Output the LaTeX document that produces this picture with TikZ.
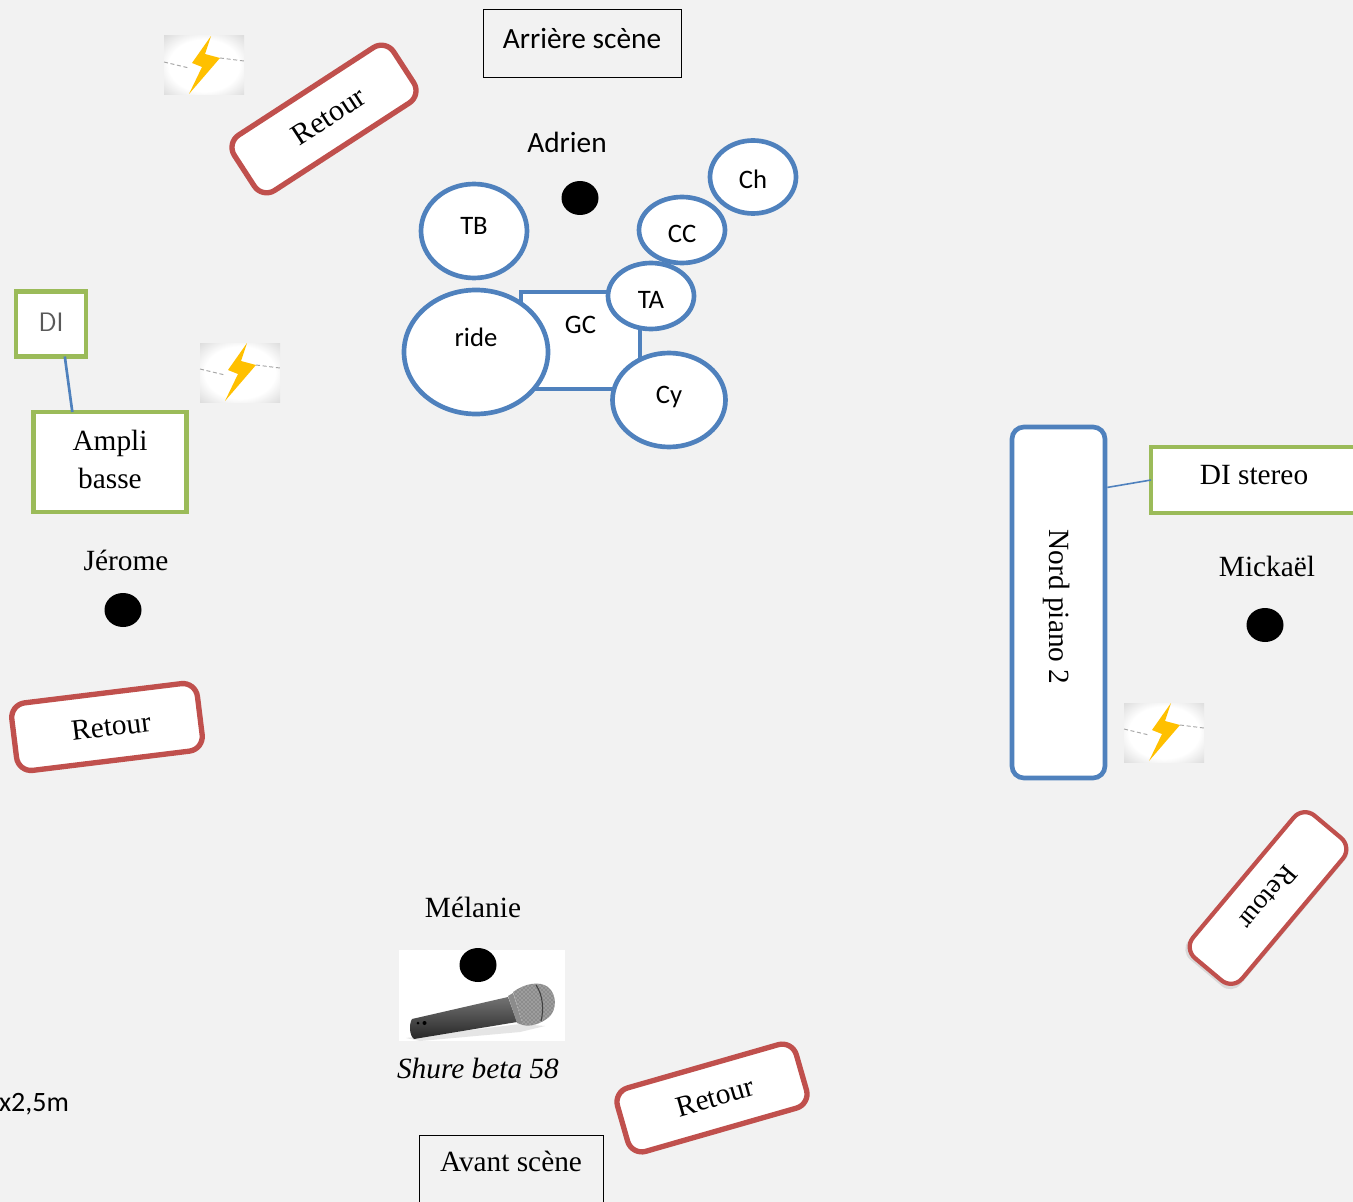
\documentclass[tikz,border=0pt]{standalone}
\usepackage{fontspec}
\setmainfont{Liberation Serif}
\newfontfamily\carlito{Carlito}
\usetikzlibrary{shapes.geometric,patterns}
\definecolor{bgc}{HTML}{F2F2F2}
\definecolor{blu}{HTML}{4F81BD}
\definecolor{grn}{HTML}{9BBB59}
\definecolor{rd}{HTML}{C0504D}
\definecolor{bolty}{HTML}{FFC000}
\pgfdeclareradialshading{boltbg}{\pgfpoint{0bp}{0bp}}{color(0bp)=(white); color(22bp)=(white); color(36bp)=(black!14); color(50bp)=(black!26)}
\tikzset{
  x=0.75pt,y=-0.75pt,
  wh/.style 2 args={minimum width=#1*0.75pt,minimum height=#2*0.75pt},
  serif/.style={font=\fontsize{22pt}{28.5pt}\selectfont},
  carl/.style={font=\carlito\fontsize{20pt}{24pt}\selectfont},
  carlb/.style={font=\carlito\fontsize{22pt}{26pt}\selectfont},
  txt/.style={inner sep=0pt,outer sep=0pt},
  drum/.style={ellipse,draw=blu,line width=3.5pt,fill=white,inner sep=0pt,outer sep=0pt,carl},
  dot/.style={ellipse,fill=black,inner sep=0pt,outer sep=0pt},
  retour/.style={rectangle,rounded corners=11pt,draw=rd,line width=4pt,fill=white,inner sep=0pt,serif},
  greenbox/.style={rectangle,draw=grn,line width=3.5pt,fill=white,inner sep=0pt,outer sep=0pt,serif},
  plainbox/.style={rectangle,draw=black,line width=0.75pt,inner sep=0pt,outer sep=0pt},
  conn/.style={draw=blu,line width=2pt},
  bolt/.pic={
    \shade[shading=boltbg] (0,0) rectangle (80,59);
    \draw[gray!70,line width=0.7pt,densely dashed] (0,26) -- (25,32);
    \draw[gray!70,line width=0.7pt,densely dashed] (56,22) -- (80,25);
    \fill[bolty] (47,0) -- (28,27) -- (38,31) -- (25,58) -- (56,22) -- (41,18) -- cycle;
  }
}
\begin{document}
\begin{tikzpicture}
\useasboundingbox (0,0) rectangle (1353,1202);
\clip (0,0) rectangle (1353,1202);
\fill[bgc] (0,0) rectangle (1353,1202);

% stage labels
\node[plainbox,wh={198}{68},carlb] (arriere) at (582,44) {\raisebox{8.25pt}{Arrière scène}};
\node[plainbox,wh={184}{90},serif] (avant) at (511,1180) {\raisebox{27.75pt}{Avant scène}};

% drums
\node[rectangle,draw=blu,line width=3.5pt,fill=white,wh={119}{97},inner sep=0pt,carl] (gc) at (580.5,340.5) {\raisebox{22.75pt}{GC}};
\node[drum,wh={106}{94}] (tb) at (474,231) {\raisebox{7.25pt}{TB}};
\node[drum,wh={86}{66}] (cc) at (682,230) {\rule{0pt}{19pt}CC};
\node[drum,wh={86}{73}] (ch) at (753,177) {\rule{0pt}{17pt}Ch};
\node[drum,wh={86}{66}] (ta) at (651,296) {\rule{0pt}{19pt}TA};
\node[drum,wh={144}{124}] (ride) at (476,352) {\raisebox{22.75pt}{ride}};
\node[drum,wh={113}{94}] (cy) at (669,400) {\raisebox{7.25pt}{Cy}};

% people
\node[txt,carlb] (adrien) at (567,142) {Adrien};
\node[dot,wh={37}{34}] (adriend) at (580,198) {};
\node[txt,serif] (jerome) at (126,560) {Jérome};
\node[dot,wh={37}{34}] (jeromed) at (123,610) {};
\node[txt,serif] (mickael) at (1267,566) {Mickaël};
\node[dot,wh={37}{34}] (mickaeld) at (1265,625) {};
\node[txt,serif] (melanie) at (473,907) {Mélanie};

% microphone
\fill[white] (399,950) rectangle (565,1041);
\fill[black!10] (406,1038) -- (520,1024) -- (545,1026) -- (520,1032) -- (420,1041) -- cycle;
\shade[top color=black!55,bottom color=black!85] (412,1019) -- (508,997) -- (517,1022) -- (414,1039) .. controls (409,1035) and (409,1024) .. (412,1019) -- cycle;
\fill[black!45] (508,996) -- (513,993) -- (523,1025) -- (517,1023) -- cycle;
\fill[black!45] (513,992) .. controls (525,983) and (540,981) .. (548,987) .. controls (557,994) and (557,1010) .. (549,1017) .. controls (541,1024) and (530,1027) .. (523,1025) -- cycle;
\fill[pattern=crosshatch dots,pattern color=white!85!black] (513,992) .. controls (525,983) and (540,981) .. (548,987) .. controls (557,994) and (557,1010) .. (549,1017) .. controls (541,1024) and (530,1027) .. (523,1025) -- cycle;
\draw[black!75,line width=0.8pt] (536,985) .. controls (543,995) and (544,1010) .. (541,1021);
\fill[black] (418,1023) circle (1.5);
\fill[black] (424.5,1023) circle (2);
\node[dot,wh={37}{34}] (melanied) at (478,965) {};
\node[txt,serif] (shure) at (478,1068) {\itshape Shure beta 58};

% cabling
\node[greenbox,wh={70}{65},font=\sffamily\fontsize{20pt}{24pt}\selectfont,text=black!65] (di) at (51,324) {\raisebox{2pt}{DI}};
\node[greenbox,wh={153}{100}] (ampli) at (110,462) {\raisebox{2.25pt}{\begin{tabular}{@{}c@{}}Ampli\\basse\end{tabular}}};
\draw[conn] (di.-67) -- (ampli.127);
\node[rectangle,draw=blu,line width=3.5pt,fill=white,rounded corners=9pt,wh={93}{351},inner sep=0pt] (nord) at (1058.5,602.5) {};
\node[txt,serif,rotate=270] (nordt) at (1057,607) {Nord piano 2};
\node[greenbox,wh={206}{66}] (stereo) at (1254,480) {\raisebox{7.75pt}{DI stereo}};
\draw[draw=blu,line width=1.2pt] (nord.67.4) -- (stereo.west);

% monitors
\node[retour,wh={190}{66},font=\fontsize{22.5pt}{28pt}\selectfont,rotate=33] (r1) at (324,119) {\hspace{8pt}Retour};
\node[retour,wh={187}{68},font=\fontsize{22pt}{28pt}\selectfont,rotate=7] (r2) at (107,727) {\hspace{6pt}Retour};
\node[retour,wh={186}{66},font=\fontsize{22pt}{28pt}\selectfont,rotate=16] (r3) at (712,1098) {\hspace{5pt}Retour};
\node[rectangle,rounded corners=10pt,fill=black!15,wh={190}{68},rotate=230,inner sep=0pt] (r4s) at (1267,900) {};
\node[retour,wh={186}{64},line width=3.2pt,font=\fontsize{20.5pt}{25pt}\selectfont,rotate=230] (r4) at (1268,898) {Retour};

% lightning icons
\pic at (164,36) {bolt};
\pic at (200,343) {bolt};
\pic at (1124,703) {bolt};

% note
\node[txt,anchor=west,font=\carlito\fontsize{21pt}{25pt}\selectfont] (note) at (-1,1104) {x2,5m};
\end{tikzpicture}
\end{document}
